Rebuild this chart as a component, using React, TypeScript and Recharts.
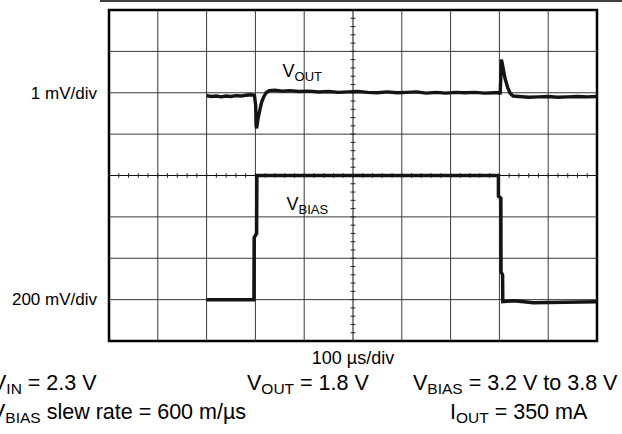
import React from "react";
import { LineChart, Line, XAxis, YAxis, ReferenceLine, ReferenceArea } from "recharts";

// time axis: microseconds (100 µs/div, 10 divisions)
const timeTicks = [0, 100, 200, 300, 400, 500, 600, 700, 800, 900, 1000];
// vertical divisions (8 divisions)
const divTicks = [0, 1, 2, 3, 4, 5, 6, 7, 8];

// VOUT deviation from 1.8 V, in mV (1 mV/div)
const voutTime = [
  200, 210, 220, 230, 240, 250, 260, 270, 280, 290, 298, 300.5, 301.5, 302.5, 305, 309, 313, 317, 322, 328,
  340, 355, 370, 390, 410, 430, 450, 470, 490, 510, 530, 550, 570, 590, 610, 630, 650, 670, 690, 710, 730,
  750, 770, 790, 800, 801.5, 803, 804, 806, 811.5, 817, 822, 828, 840, 860, 880, 900, 920, 940, 960, 980, 1000,
];
const voutMv = [
  -0.07, -0.09, -0.08, -0.1, -0.08, -0.09, -0.07, -0.08, -0.06, -0.05, -0.06, -0.3, -0.8, -0.86, -0.65, -0.42,
  -0.22, -0.1, 0.0, 0.05, 0.06, 0.04, 0.05, 0.03, 0.04, 0.02, 0.03, 0.01, 0.02, 0.03, 0.01, 0.0, 0.02, 0.0,
  0.01, 0.02, -0.01, 0.01, -0.01, 0.01, 0.0, 0.01, -0.01, 0.0, 0.0, -0.04, 0.4, 0.8, 0.7, 0.35, 0.12, -0.01,
  -0.08, -0.09, -0.11, -0.1, -0.09, -0.11, -0.1, -0.09, -0.1, -0.09,
];

// VBIAS in volts (200 mV/div)
const vbiasTime = [200, 297, 297.5, 302.5, 303, 798, 798, 803, 803.3, 806.5, 807, 830, 870, 1000];
const vbiasV = [3.2, 3.2, 3.5, 3.52, 3.8, 3.8, 3.7, 3.69, 3.335, 3.32, 3.19, 3.195, 3.185, 3.19];

// minor graticule ticks
const hMinorTicks = Array.from({ length: 51 }, (_, i) => i * 20);
const vMinorTicks = Array.from({ length: 41 }, (_, i) => i * 0.2);

const labelVout = ["V", "OUT"];
const labelVbias = ["V", "BIAS"];
const scaleTop = "1 mV/div";
const scaleBottom = "200 mV/div";
const timeScale = "100 \u00b5s/div";

const voutData = voutTime.map((t, i) => ({ t, v: voutMv[i] }));
const vbiasData = vbiasTime.map((t, i) => ({ t, v: vbiasV[i] }));

const FONT = "'Liberation Sans', Arial, Helvetica, sans-serif";
const GRID = "#3a3a3a";
const TRACE = "#141414";

export default function App() {
  return (
    <div style={{ position: "absolute", left: 0, top: 0, width: 622, height: 434, background: "#fff" }}>
      <LineChart width={622} height={434} margin={{ top: 10, right: 25, bottom: 93, left: 109 }}>
        <XAxis dataKey="t" type="number" domain={[0, 1000]} ticks={timeTicks} hide allowDataOverflow />
        <YAxis yAxisId="div" type="number" domain={[0, 8]} ticks={divTicks} hide allowDataOverflow />
        <YAxis yAxisId="vout" type="number" domain={[-6, 2]} hide allowDataOverflow />
        <YAxis yAxisId="vbias" type="number" domain={[3.0, 4.6]} hide allowDataOverflow />

        {timeTicks.slice(1, -1).map((t) => (
          <ReferenceLine key={"gx" + t} x={t} yAxisId="div" stroke={t === 500 ? "#111" : GRID} strokeWidth={1} />
        ))}
        {divTicks.slice(1, -1).map((d) => (
          <ReferenceLine key={"gy" + d} y={d} yAxisId="div" stroke={d === 4 ? "#111" : GRID} strokeWidth={1} />
        ))}
        {hMinorTicks.map((t) => (
          <ReferenceLine
            key={"hm" + t}
            yAxisId="div"
            segment={[{ x: t, y: 3.945 }, { x: t, y: 4.055 }]}
            stroke="#222"
            strokeWidth={1}
          />
        ))}
        {vMinorTicks.map((d) => (
          <ReferenceLine
            key={"vm" + d}
            yAxisId="div"
            segment={[{ x: 495, y: d }, { x: 505, y: d }]}
            stroke="#222"
            strokeWidth={1}
          />
        ))}

        <Line
          data={voutData}
          dataKey="v"
          yAxisId="vout"
          type="linear"
          dot={false}
          stroke={TRACE}
          strokeWidth={3.4}
          isAnimationActive={false}
        />
        <Line
          data={vbiasData}
          dataKey="v"
          yAxisId="vbias"
          type="linear"
          dot={false}
          stroke={TRACE}
          strokeWidth={3.5}
          isAnimationActive={false}
        />

        <ReferenceArea
          x1={0}
          x2={1000}
          y1={0}
          y2={8}
          yAxisId="div"
          fill="none"
          fillOpacity={0}
          stroke="#000"
          strokeWidth={2.5}
        />
      </LineChart>

      <svg
        width={622}
        height={434}
        style={{ position: "absolute", left: 0, top: 0, pointerEvents: "none" }}
        fontFamily={FONT}
        fill="#000"
      >
        <line x1={100} x2={622} y1={1} y2={1} stroke="#000" strokeWidth={1.5} />

        <text x={97} y={99} fontSize={17} textAnchor="end">{scaleTop}</text>
        <text x={97} y={305} fontSize={17} textAnchor="end">{scaleBottom}</text>

        <text x={282.5} y={77} fontSize={18}>
          {labelVout[0]}
          <tspan fontSize={13} dy={4}>{labelVout[1]}</tspan>
        </text>
        <text x={286.5} y={210} fontSize={18}>
          {labelVbias[0]}
          <tspan fontSize={13} dy={4}>{labelVbias[1]}</tspan>
        </text>

        <text x={353} y={364} fontSize={18} textAnchor="middle">{timeScale}</text>

        <text x={-8} y={390} fontSize={21.5}>
          V<tspan fontSize={15.5} dy={4}>IN</tspan>
          <tspan dy={-4}> = 2.3 V</tspan>
        </text>
        <text x={247} y={390} fontSize={21.5}>
          V<tspan fontSize={15.5} dy={4}>OUT</tspan>
          <tspan dy={-4}> = 1.8 V</tspan>
        </text>
        <text x={413} y={390} fontSize={21.5}>
          V<tspan fontSize={15.5} dy={4}>BIAS</tspan>
          <tspan dy={-4}> = 3.2 V to 3.8 V</tspan>
        </text>
        <text x={-9} y={419} fontSize={21.5}>
          V<tspan fontSize={15.5} dy={4}>BIAS</tspan>
          <tspan dy={-4}> slew rate = 600 m/{"\u00b5"}s</tspan>
        </text>
        <text x={450} y={419} fontSize={21.5}>
          I<tspan fontSize={15.5} dy={4}>OUT</tspan>
          <tspan dy={-4}> = 350 mA</tspan>
        </text>
      </svg>
    </div>
  );
}
